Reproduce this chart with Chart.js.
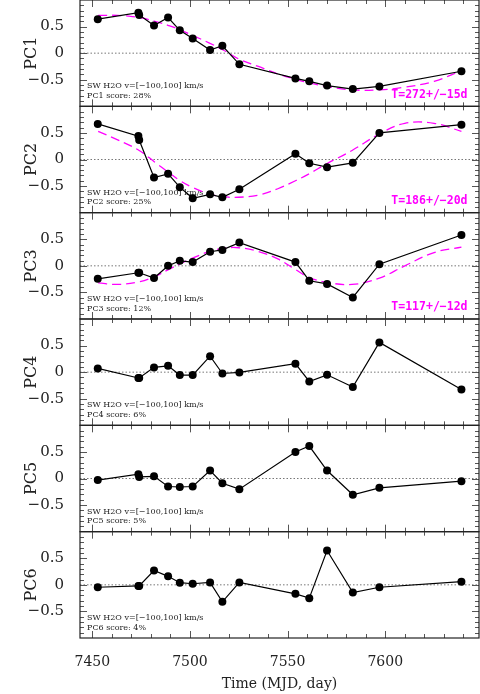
<!DOCTYPE html>
<html>
<head>
<meta charset="utf-8">
<script src="https://cdn.jsdelivr.net/npm/chart.js@4.4.1/dist/chart.umd.min.js"></script>
<style>
  html, body { margin: 0; padding: 0; background: #fff; }
  #wrap { width: 480px; height: 694px; }
</style>
</head>
<body>
<div id="wrap"><canvas id="pcChart" width="480" height="694"></canvas></div>
<script>
// observation dates (MJD - 50000), two spectra almost on the same day near 7474
const dates = [7452.8, 7473.6, 7474.0, 7481.6, 7488.8, 7494.8, 7501.4, 7510.3, 7516.6, 7525.3, 7554.0, 7561.1, 7570.2, 7583.4, 7597.0, 7639.0];

const pc1 = [0.64, 0.76, 0.72, 0.52, 0.67, 0.43, 0.275, 0.06, 0.14, -0.21, -0.475, -0.53, -0.61, -0.675, -0.625, -0.34];
const pc2 = [0.67, 0.44, 0.365, -0.34, -0.27, -0.52, -0.73, -0.655, -0.71, -0.56, 0.107, -0.07, -0.145, -0.063, 0.5, 0.655];
const pc3 = [-0.245, -0.13, -0.13, -0.23, 0.0, 0.095, 0.07, 0.265, 0.3, 0.437, 0.07, -0.28, -0.34, -0.595, 0.03, 0.58];
const pc4 = [0.07, -0.11, -0.11, 0.09, 0.12, -0.055, -0.055, 0.3, -0.025, -0.005, 0.16, -0.175, -0.05, -0.28, 0.56, -0.325];
const pc5 = [-0.03, 0.08, 0.03, 0.04, -0.15, -0.16, -0.15, 0.15, -0.09, -0.2, 0.5, 0.61, 0.15, -0.305, -0.175, -0.05];
const pc6 = [-0.045, -0.02, -0.02, 0.27, 0.16, 0.04, 0.02, 0.045, -0.32, 0.045, -0.17, -0.25, 0.645, -0.145, -0.045, 0.06];

// sinusoid fits (magenta dashes)
const fitDates = [7453, 7463, 7474, 7482, 7489, 7495, 7501, 7510, 7517, 7525, 7535, 7545, 7554, 7561, 7570, 7583, 7597, 7610, 7625, 7639];
const fit1 = [0.71, 0.71, 0.67, 0.60, 0.52, 0.44, 0.34, 0.19, 0.06, -0.11, -0.25, -0.39, -0.49, -0.56, -0.625, -0.69, -0.69, -0.64, -0.53, -0.33];
const fit2 = [0.53, 0.37, 0.17, -0.05, -0.24, -0.40, -0.52, -0.65, -0.70, -0.71, -0.67, -0.55, -0.40, -0.27, -0.08, 0.17, 0.48, 0.68, 0.68, 0.53];
const fit3 = [-0.32, -0.35, -0.30, -0.20, -0.07, 0.04, 0.14, 0.27, 0.33, 0.34, 0.27, 0.13, -0.07, -0.22, -0.31, -0.35, -0.23, 0.0, 0.25, 0.35];

const pcNames = ['PC1', 'PC2', 'PC3', 'PC4', 'PC5', 'PC6'];
const scores = [28, 25, 12, 6, 5, 4];
const periods = ['T=272+/\u221215d', 'T=186+/\u221220d', 'T=117+/\u221212d', '', '', ''];
const noteText = 'SW H2O v=[\u2212100,100] km/s';

const xTickValues = [7450, 7500, 7550, 7600];
const yTickValues = [-0.5, 0, 0.5];
const xMin = 7443.7, xMax = 7648;

const series = [pc1, pc2, pc3, pc4, pc5, pc6];
const fits = [fit1, fit2, fit3];
const yIds = pcNames.map((n, i) => 'y' + (i + 1));

const datasets = [];
series.forEach((vals, i) => {
  datasets.push({
    data: dates.map((d, j) => ({ x: d, y: vals[j] })),
    yAxisID: yIds[i],
    borderColor: '#000',
    backgroundColor: '#000',
    borderWidth: 1.2,
    pointRadius: 4,
    pointBorderWidth: 0,
    tension: 0,
    order: 0
  });
});
fits.forEach((vals, i) => {
  datasets.push({
    data: fitDates.map((d, j) => ({ x: d, y: vals[j] })),
    yAxisID: yIds[i],
    borderColor: '#ff00ff',
    borderWidth: 1.3,
    borderDash: [9, 5],
    pointRadius: 0,
    tension: 0.4,
    order: 1
  });
});

const serif = 'DejaVu Serif';
const scales = {
  x: {
    type: 'linear',
    min: xMin,
    max: xMax,
    afterBuildTicks: s => { s.ticks = xTickValues.map(v => ({ value: v })); },
    afterFit: s => { s.height = 56; s.paddingLeft = 0; s.paddingRight = 0; },
    grid: { display: false },
    border: { display: false },
    ticks: { font: { family: serif, size: 14 }, color: '#222', padding: 8, maxRotation: 0, callback: v => String(v) },
    title: { display: true, text: 'Time (MJD, day)', font: { family: serif, size: 14 }, color: '#222', padding: { top: 0, bottom: 1 } }
  }
};
pcNames.forEach((name, i) => {
  scales[yIds[i]] = {
    type: 'linear',
    position: 'left',
    stack: 'pcs',
    stackWeight: 1,
    weight: pcNames.length - i,
    min: -1,
    max: 1,
    afterBuildTicks: s => { s.ticks = yTickValues.map(v => ({ value: v })); },
    afterFit: s => { s.width = 80; s.paddingTop = 0; s.paddingBottom = 0; },
    grid: { display: false },
    border: { display: false },
    ticks: {
      font: { family: serif, size: 15 }, color: '#222', padding: 8,
      callback: v => v === 0 ? '0' : (v < 0 ? '\u2212' : '') + Math.abs(v)
    },
    title: { display: true, text: name, font: { family: serif, size: 16 }, color: '#222', padding: { top: 22 } }
  };
});

// zero lines, notes, frames and inward ticks for every panel
const panelDecor = {
  id: 'panelDecor',
  beforeDatasetsDraw(chart) {
    const { ctx, chartArea: a, scales: sc } = chart;
    ctx.save();
    yIds.forEach((id, i) => {
      const s = sc[id];
      const y0 = s.getPixelForValue(0);
      ctx.strokeStyle = '#777';
      ctx.lineWidth = 1;
      ctx.setLineDash([1.5, 2]);
      ctx.beginPath(); ctx.moveTo(a.left, y0); ctx.lineTo(a.right, y0); ctx.stroke();
      ctx.setLineDash([]);

      ctx.fillStyle = '#222';
      ctx.font = '8px "DejaVu Serif"';
      ctx.textAlign = 'left';
      ctx.textBaseline = 'middle';
      ctx.fillText(noteText, a.left + 7, s.bottom - 20);
      ctx.fillText(pcNames[i] + ' score: ' + scores[i] + '%', a.left + 7, s.bottom - 10.5);

      if (periods[i]) {
        ctx.fillStyle = '#ff00ff';
        ctx.font = 'bold 11.5px "DejaVu Sans Mono"';
        ctx.textAlign = 'right';
        ctx.fillText(periods[i], a.right - 11.5, s.bottom - 11.5);
      }
    });
    ctx.restore();
  },
  afterDraw(chart) {
    const { ctx, chartArea: a, scales: sc } = chart;
    const xs = sc.x;
    ctx.save();
    yIds.forEach(id => {
      const s = sc[id];
      ctx.strokeStyle = '#555';
      ctx.lineWidth = 1;
      ctx.beginPath();
      for (let k = -9; k <= 9; k++) {
        const y = Math.round(s.getPixelForValue(k / 10)) + 0.5;
        const len = k % 5 === 0 ? 7 : 4;
        ctx.moveTo(a.left, y); ctx.lineTo(a.left + len, y);
        ctx.moveTo(a.right, y); ctx.lineTo(a.right - len, y);
      }
      for (let d = 7450; d <= xMax; d += 10) {
        const x = Math.round(xs.getPixelForValue(d)) + 0.5;
        const len = d % 50 === 0 ? 7 : 4;
        ctx.moveTo(x, s.top); ctx.lineTo(x, s.top + len);
        ctx.moveTo(x, s.bottom); ctx.lineTo(x, s.bottom - len);
      }
      ctx.stroke();

      ctx.strokeStyle = '#222';
      ctx.lineWidth = 1.2;
      ctx.strokeRect(a.left, s.top, a.right - a.left, s.bottom - s.top);
    });
    ctx.restore();
  }
};

new Chart(document.getElementById('pcChart').getContext('2d'), {
  type: 'line',
  data: { datasets },
  options: {
    responsive: false,
    animation: false,
    layout: { autoPadding: false, padding: { left: 0, right: 1, top: 0, bottom: 0 } },
    scales,
    plugins: { legend: { display: false }, tooltip: { enabled: false } }
  },
  plugins: [panelDecor]
});
</script>
</body>
</html>
